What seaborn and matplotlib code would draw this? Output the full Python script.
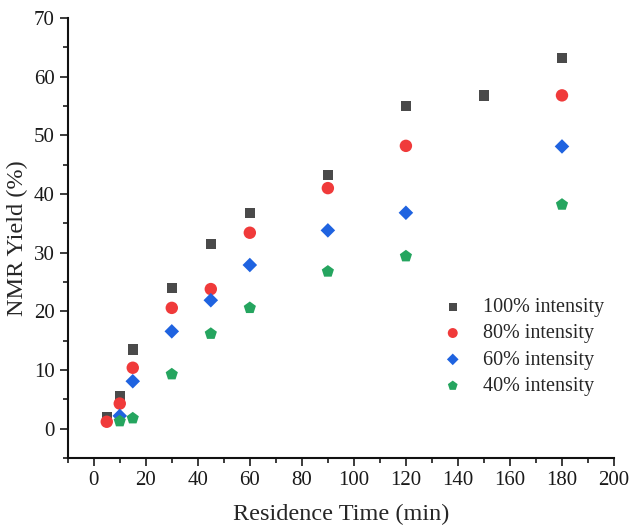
import matplotlib
matplotlib.use("Agg")
import matplotlib.pyplot as plt
import numpy as np
import pandas as pd
import seaborn as sns
from matplotlib.ticker import MultipleLocator

time_100 = [5, 10, 15, 30, 45, 60, 90, 120, 150, 180]
yield_100 = [2.0, 5.5, 13.5, 24.0, 31.5, 36.8, 43.2, 55.0, 56.8, 63.2]

time_80 = [5, 10, 15, 30, 45, 60, 90, 120, 180]
yield_80 = [1.2, 4.3, 10.4, 20.6, 23.8, 33.4, 41.0, 48.2, 56.8]

time_60 = [10, 15, 30, 45, 60, 90, 120, 180]
yield_60 = [2.2, 8.1, 16.6, 21.9, 27.9, 33.8, 36.8, 48.1]

time_40 = [10, 15, 30, 45, 60, 90, 120, 180]
yield_40 = [1.3, 1.8, 9.3, 16.2, 20.6, 26.8, 29.4, 38.2]

labels = ["100% intensity", "80% intensity", "60% intensity", "40% intensity"]
colors = ["#4a4a4a", "#f03a3a", "#1f63e0", "#25a55f"]
markers = ["s", "o", "D", "p"]
sizes = [55, 80, 55, 85]

df = pd.concat([
    pd.DataFrame({"time": time_100, "yield": yield_100, "series": labels[0]}),
    pd.DataFrame({"time": time_80, "yield": yield_80, "series": labels[1]}),
    pd.DataFrame({"time": time_60, "yield": yield_60, "series": labels[2]}),
    pd.DataFrame({"time": time_40, "yield": yield_40, "series": labels[3]}),
])

sns.set_style("ticks")
plt.rcParams["font.family"] = ["Liberation Serif", "DejaVu Serif"]

fig = plt.figure(figsize=(6.33, 5.26), dpi=100)
ax = fig.add_axes([0.107, 0.129, 0.863, 0.837])

for lab, col, mk, sz in zip(labels, colors, markers, sizes):
    sub = df[df["series"] == lab]
    sns.scatterplot(data=sub, x="time", y="yield", color=col, marker=mk, s=sz,
                    edgecolor="none", label=lab, ax=ax)

ax.set_xlim(-10, 200)
ax.set_ylim(-5, 70)
ax.set_xticks(np.arange(0, 201, 20))
ax.xaxis.set_minor_locator(MultipleLocator(10))
ax.yaxis.set_major_locator(MultipleLocator(10))
ax.yaxis.set_minor_locator(MultipleLocator(5))
ax.tick_params(which="major", direction="out", length=6, width=1.2, labelsize=15, colors="#1a1a1a")
ax.tick_params(which="minor", direction="out", length=3.5, width=1.2, colors="#1a1a1a")
for sp in ["left", "bottom"]:
    ax.spines[sp].set_linewidth(1.5)
    ax.spines[sp].set_color("#111111")
sns.despine(ax=ax)

ax.set_xlabel("Residence Time (min)", fontsize=17.5, labelpad=10)
ax.set_ylabel("NMR Yield (%)", fontsize=17.5, labelpad=4)

ax.legend(loc="lower right", bbox_to_anchor=(1.015, 0.1), frameon=False, fontsize=14.5,
          handletextpad=0.5, labelspacing=0.36, markerscale=0.8)

fig.savefig("out.png", dpi=100)
